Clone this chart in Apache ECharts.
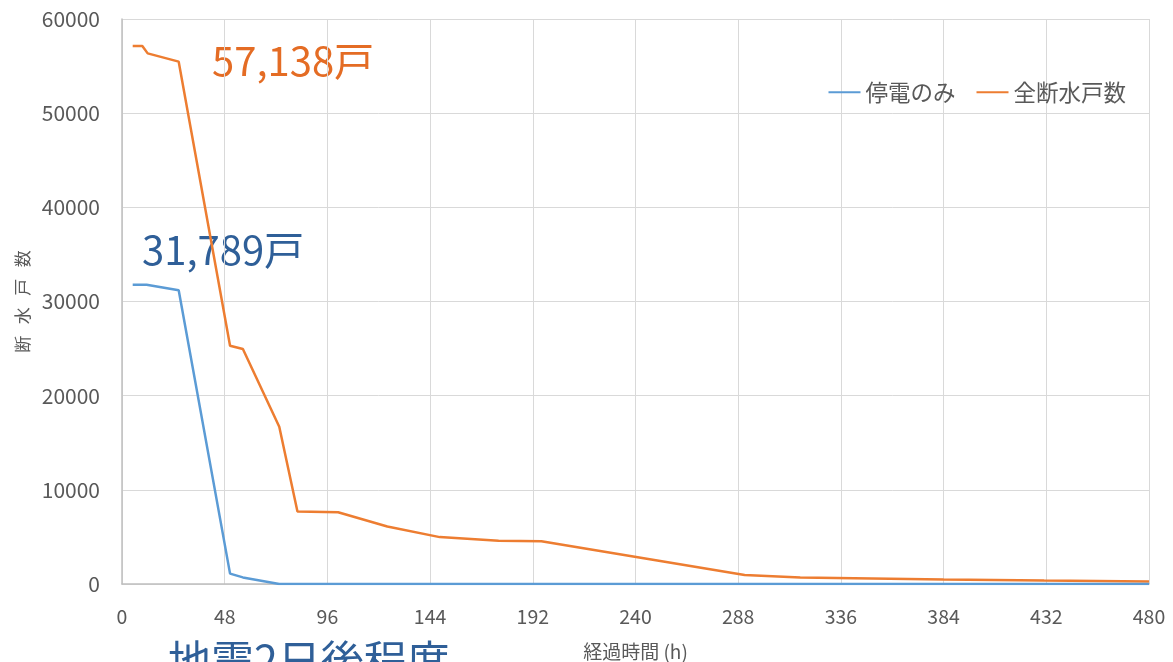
<!DOCTYPE html>
<html>
<head>
<meta charset="utf-8">
<script src="https://cdn.jsdelivr.net/npm/echarts@6/dist/echarts.min.js"></script>
<style>
html,body{margin:0;padding:0;background:#fff;}
#chart{width:1173px;height:662px;}
</style>
</head>
<body>
<div id="chart"></div>
<script>
// Data
const hoursPower = [5, 11.5, 26.5, 50.5, 56.5, 73.5, 480];
const powerOnly = [31789, 31789, 31200, 1100, 700, 0, 0];
const hoursAll = [5, 9.5, 12, 26.5, 50.5, 56.5, 73.5, 82, 101, 124, 148.5, 176, 196, 291, 317, 384, 431, 480];
const allOutage = [57138, 57138, 56350, 55470, 25300, 24950, 16700, 7700, 7620, 6100, 4980, 4580, 4540, 960, 680, 470, 360, 260];
const seriesNames = ['停電のみ', '全断水戸数'];
const xTicks = [0, 48, 96, 144, 192, 240, 288, 336, 384, 432, 480];
const yTicks = [0, 10000, 20000, 30000, 40000, 50000, 60000];
const annotations = ['57,138戸', '31,789戸', '地震2日後程度'];

const font = '"Noto Sans CJK JP", "Noto Sans", sans-serif';
const textGray = '#595959';

const chart = echarts.init(document.getElementById('chart'), null, {renderer: 'canvas'});
const pair = (xs, ys) => xs.map((x, i) => [x, ys[i]]);

chart.setOption({
  animation: false,
  backgroundColor: '#fff',
  textStyle: {fontFamily: font},
  grid: {left: 122, right: 24, top: 19, bottom: 78, containLabel: false, outerBoundsMode: 'none'},
  legend: {
    right: 42, top: 76,
    itemWidth: 32, itemHeight: 2, itemGap: 21,
    icon: 'rect',
    textStyle: {fontSize: 22.5, color: textGray, fontFamily: font, padding: [0, 0, 0, 0]},
    data: seriesNames
  },
  xAxis: {
    type: 'value',
    min: xTicks[0], max: xTicks[xTicks.length - 1], interval: 48,
    name: '経過時間 (h)', nameLocation: 'middle', nameGap: 58,
    nameTextStyle: {fontSize: 19, color: textGray, fontFamily: font},
    axisLine: {show: true, lineStyle: {color: '#BFBFBF', width: 1.5}},
    axisTick: {show: false},
    axisLabel: {fontSize: 19.5, color: textGray, margin: 23, fontFamily: font},
    splitLine: {show: true, lineStyle: {color: '#D9D9D9', width: 1}}
  },
  yAxis: {
    type: 'value',
    min: yTicks[0], max: yTicks[yTicks.length - 1], interval: 10000,
    name: '断   水   戸   数', nameLocation: 'middle', nameGap: 88, nameRotate: 90,
    nameTextStyle: {fontSize: 17, color: textGray, fontFamily: font},
    axisLine: {show: true, lineStyle: {color: '#BFBFBF', width: 1.5}},
    axisTick: {show: false},
    axisLabel: {fontSize: 21, color: textGray, margin: 22, fontFamily: font,
      formatter: v => String(v)},
    splitLine: {show: true, lineStyle: {color: '#D9D9D9', width: 1}}
  },
  series: [
    {
      name: seriesNames[0], type: 'line', symbol: 'none', smooth: false,
      data: pair(hoursPower, powerOnly),
      lineStyle: {color: '#5B9BD5', width: 2.5},
      itemStyle: {color: '#5B9BD5'},
      z: 3
    },
    {
      name: seriesNames[1], type: 'line', symbol: 'none', smooth: false,
      data: pair(hoursAll, allOutage),
      lineStyle: {color: '#ED7D31', width: 2.5},
      itemStyle: {color: '#ED7D31'},
      z: 2
    }
  ],
  graphic: [
    {type: 'text', left: 212, top: 41, z: 0,
     style: {text: annotations[0], font: '40px ' + font, fill: '#E46C24'}},
    {type: 'text', left: 142, top: 230, z: 0,
     style: {text: annotations[1], font: '40px ' + font, fill: '#2F5F98'}},
    {type: 'text', left: 168, top: 639, z: 0,
     style: {text: annotations[2], font: '43px ' + font, fill: '#2F5F98'}}
  ]
});
</script>
</body>
</html>
